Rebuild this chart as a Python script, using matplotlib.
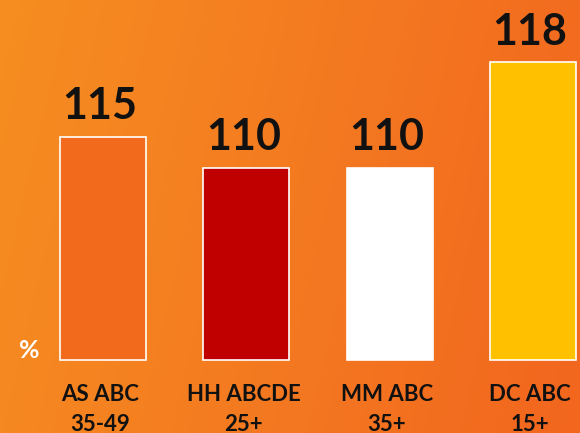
import matplotlib
matplotlib.use("Agg")
import matplotlib.pyplot as plt
import numpy as np
from matplotlib.colors import LinearSegmentedColormap

# Data
line1 = ["AS ABC", "HH ABCDE", "MM ABC", "DC ABC"]
line2 = ["35-49", "25+", "35+", "15+"]
values = [115, 110, 110, 118]            # printed labels
bar_heights = [115, 110, 110, 127]       # drawn heights
bar_colors = ["#F26A1C", "#C00000", "#FFFFFF", "#FFC000"]
baseline = 79

FONT = ["Lato", "DejaVu Sans"]

fig = plt.figure(figsize=(5.8, 4.33), dpi=100)

# gradient background
bg = fig.add_axes([0, 0, 1, 1], zorder=0)
cmap = LinearSegmentedColormap.from_list("bg", ["#F68E20", "#F47A21", "#F2661E"])
xx = np.linspace(0, 1, 300)
yy = np.linspace(0, 1, 200)
X, Y = np.meshgrid(xx, yy)
G = np.clip(0.85 * X + 0.15 * (1 - Y), 0, 1)
bg.imshow(G, cmap=cmap, aspect="auto", extent=[0, 1, 0, 1], origin="lower", vmin=0, vmax=1)
bg.set_axis_off()

ax = fig.add_axes([0, 0, 1, 1], zorder=1)
ax.patch.set_alpha(0)
x = np.arange(len(values))
ax.bar(x, [h - baseline for h in bar_heights], bottom=baseline, width=0.60,
       color=bar_colors, edgecolor="white", linewidth=1.2)
ax.set_xlim(-0.719, 3.329)
ax.set_ylim(67.23, 137.06)
ax.set_axis_off()

for xi, h, v in zip(x, bar_heights, values):
    ax.text(xi - 0.02, h + 2.8, str(v), ha="center", va="baseline", fontsize=31,
            fontweight="bold", color="#111111", family=FONT)

for xi, a, b in zip(x, line1, line2):
    ax.text(xi - 0.02, 72.38, a, ha="center", va="baseline", fontsize=16, fontweight="bold",
            color="#111111", family=FONT)
    ax.text(xi - 0.02, 67.55, b, ha="center", va="baseline", fontsize=16, fontweight="bold",
            color="#111111", family=FONT)

fig.text(29 / 580, 1 - 350 / 433, "%", ha="center", va="center", fontsize=18,
         fontweight="bold", color="white", family=FONT)

fig.savefig("out.png", dpi=100)
